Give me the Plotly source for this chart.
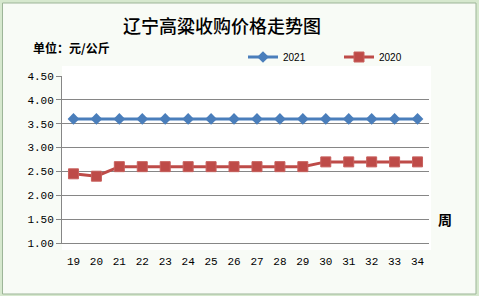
import plotly.graph_objects as go

weeks = list(range(19, 35))
price_2021 = [3.6] * 16
price_2020 = [2.45, 2.4, 2.6, 2.6, 2.6, 2.6, 2.6, 2.6, 2.6, 2.6, 2.6, 2.7, 2.7, 2.7, 2.7, 2.7]
y_ticks = [1.0, 1.5, 2.0, 2.5, 3.0, 3.5, 4.0, 4.5]

W, H = 479, 296
L, R, T, B = 62, 50, 76, 53
PW, PH = W - L - R, H - T - B


def px(x):
    return (x - L) / PW


def py(y):
    return (H - B - y) / PH


fig = go.Figure()
fig.add_trace(go.Scatter(
    x=weeks, y=price_2021, name="2021", mode="lines+markers",
    line=dict(color="#4A7EBB", width=3),
    marker=dict(symbol="diamond", size=9, color="#4A7EBB"),
))
fig.add_trace(go.Scatter(
    x=weeks, y=price_2020, name="2020", mode="lines+markers",
    line=dict(color="#BE4B48", width=3),
    marker=dict(symbol="square", size=10, color="#BE4B48",
                line=dict(color="#C8605D", width=1)),
))

shapes = [
    dict(type="rect", xref="paper", yref="paper", x0=px(2.5), x1=px(476), y0=py(3), y1=py(294),
         fillcolor="#F8FBF6", line=dict(color="#9DB598", width=1), layer="below"),
    dict(type="rect", xref="paper", yref="paper", x0=px(62), x1=px(431), y0=py(66), y1=py(250),
         fillcolor="#FFFFFF", line=dict(width=0), layer="below"),
]

annotations = [
    dict(text="辽宁高粱收购价格走势图", xref="paper", yref="paper", x=px(222), y=py(25),
         xanchor="center", yanchor="middle", showarrow=False,
         font=dict(family="Noto Sans CJK SC", size=18, color="#000000", weight=500)),
    dict(text="<b>单位：元/公斤</b>", xref="paper", yref="paper", x=px(31), y=py(47),
         xanchor="left", yanchor="middle", showarrow=False,
         font=dict(family="Noto Sans CJK SC", size=12, color="#000000")),
    dict(text="<b>周</b>", xref="paper", yref="paper", x=px(445), y=py(219),
         xanchor="center", yanchor="middle", showarrow=False,
         font=dict(family="Noto Sans CJK SC", size=14, color="#000000")),
]

fig.update_layout(
    width=W, height=H,
    margin=dict(l=L, r=R, t=T, b=B, pad=0),
    paper_bgcolor="#D6E8CE",
    plot_bgcolor="rgba(0,0,0,0)",
    shapes=shapes,
    annotations=annotations,
    showlegend=True,
    legend=dict(orientation="h", x=px(243), y=py(57), xanchor="left", yanchor="middle",
                font=dict(family="Arial", size=10, color="#000000"),
                bgcolor="rgba(0,0,0,0)", entrywidth=51, itemwidth=30),
    xaxis=dict(range=[18.5, 34.5], tickmode="array", tickvals=weeks,
               ticktext=[str(w) for w in weeks], showgrid=False, zeroline=False,
               showline=True, linecolor="#868686", linewidth=1, ticks="",
               tickfont=dict(family="Liberation Mono", size=11, color="#000000"),
               ticklabelstandoff=8),
    yaxis=dict(range=[1.0, 4.5], tickmode="array", tickvals=y_ticks,
               ticktext=[f"{v:.2f}" for v in y_ticks], showgrid=True, gridcolor="#868686",
               gridwidth=1, zeroline=False, showline=True, linecolor="#868686", linewidth=1,
               ticks="outside", ticklen=5, tickcolor="#868686",
               tickfont=dict(family="Liberation Mono", size=11, color="#000000")),
)

fig.write_html("out.html")
